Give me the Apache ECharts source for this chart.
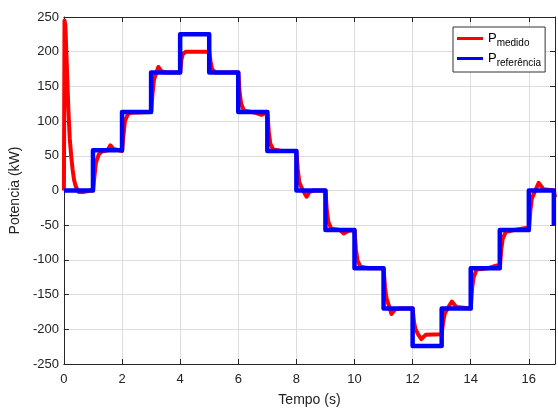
<!DOCTYPE html>
<html>
<head>
<meta charset="utf-8">
<script src="https://cdn.jsdelivr.net/npm/echarts@6/dist/echarts.min.js"></script>
<style>
  html, body { margin: 0; padding: 0; background: #fff; }
  #main { width: 558px; height: 415px; }
</style>
</head>
<body>
<div id="main"></div>
<script>
// P referencia (degraus de 1 s)
const refT = [0, 1, 1, 2, 2, 3, 3, 4, 4, 5, 5, 6, 6, 7, 7, 8, 8, 9, 9, 10, 10, 11, 11, 12, 12, 13, 13, 14, 14, 15, 15, 16, 16, 16.86, 16.86];
const refP = [0, 0, 58, 58, 113, 113, 170, 170, 225, 225, 170, 170, 113, 113, 57, 57, 0, 0, -57, -57, -112, -112, -170, -170, -224, -224, -170, -170, -112, -112, -57, -57, 0, 0, -50];

// P medido
const medT = [0, 0.02, 0.05, 0.1, 0.15, 0.2, 0.25, 0.3, 0.35, 0.4, 0.45, 0.5, 0.7, 0.9, 1.0,
  1.05, 1.1, 1.2, 1.3, 1.5, 1.6, 1.7, 1.9, 2.0,
  2.05, 2.1, 2.2, 2.3, 3.0,
  3.05, 3.1, 3.2, 3.25, 3.35, 3.5, 4.0,
  4.05, 4.1, 4.2, 5.0,
  5.05, 5.1, 5.2, 6.0,
  6.05, 6.1, 6.2, 6.6, 6.8, 7.0,
  7.05, 7.1, 7.2, 7.5, 8.0,
  8.05, 8.1, 8.2, 8.35, 8.45, 8.6, 9.0,
  9.05, 9.1, 9.2, 9.5, 9.63, 9.8, 10.0,
  10.05, 10.1, 10.2, 10.5, 11.0,
  11.05, 11.1, 11.2, 11.27, 11.4, 11.6, 12.0,
  12.05, 12.1, 12.2, 12.3, 12.45, 13.0,
  13.05, 13.1, 13.2, 13.35, 13.5, 14.0,
  14.05, 14.1, 14.2, 14.6, 14.9, 15.0,
  15.05, 15.1, 15.2, 15.6, 15.9, 16.0,
  16.05, 16.1, 16.2, 16.34, 16.5, 16.86, 16.9];
const medP = [0, 245, 238, 180, 120, 75, 50, 30, 15, 7, 2, -2, -2, 0, 0,
  20, 40, 52, 56, 58, 65, 60, 58, 57,
  80, 100, 110, 112, 113,
  140, 160, 172, 178, 172, 170, 170,
  190, 197, 200, 200,
  185, 175, 170, 170,
  140, 125, 115, 112, 109, 113,
  85, 68, 59, 57, 57,
  30, 12, 2, -9, -2, 0, 0,
  -30, -45, -55, -57, -62, -58, -57,
  -85, -100, -110, -112, -112,
  -140, -155, -168, -178, -171, -170, -170,
  -190, -200, -208, -214, -208, -207,
  -190, -178, -170, -160, -168, -170,
  -140, -125, -114, -112, -108, -112,
  -85, -70, -60, -56, -54, -57,
  -30, -12, -2, 11, 2, 0, -10];

const xTicks = [0, 2, 4, 6, 8, 10, 12, 14, 16];
const yTicks = [-250, -200, -150, -100, -50, 0, 50, 100, 150, 200, 250];

const medData = medT.map((t, i) => [t, medP[i]]);
const refData = refT.map((t, i) => [t, refP[i]]);

const chart = echarts.init(document.getElementById('main'), null, { renderer: 'canvas' });

const FONT = 'Liberation Sans';
const axisColor = '#262626';

const legendRich = {
  p: { fontSize: 13, color: '#000', fontFamily: FONT },
  s: { fontSize: 10, color: '#000', fontFamily: FONT, padding: [9, 0, 0, 0] }
};

const option = {
  animation: false,
  backgroundColor: '#fff',
  grid: { left: 62, top: 17, right: 0, bottom: 51 },
  legend: {
    left: 453,
    top: 27,
    orient: 'vertical',
    backgroundColor: '#fff',
    borderColor: '#333',
    borderWidth: 1,
    borderRadius: 0,
    padding: [5, 4, 4, 4],
    itemGap: 4,
    itemWidth: 26,
    itemHeight: 3,
    icon: 'rect',
    data: ['medido', 'referência'],
    formatter: name => '{p|P}{s|' + name + '}',
    textStyle: { rich: legendRich }
  },
  xAxis: [{
    type: 'value',
    min: 0, max: 16.9, interval: 2,
    name: 'Tempo (s)',
    nameLocation: 'middle',
    nameGap: 29,
    nameTextStyle: { fontSize: 14, color: '#222', fontFamily: FONT },
    axisLine: { onZero: false, lineStyle: { color: axisColor, width: 1 } },
    axisTick: { inside: true, length: 5, lineStyle: { color: axisColor } },
    axisLabel: {
      fontSize: 13, color: '#222', fontFamily: FONT, margin: 9,
      formatter: v => xTicks.includes(v) ? String(v) : ''
    },
    splitLine: { show: true, lineStyle: { color: '#dcdcdc', width: 1 } }
  }, {
    type: 'value',
    position: 'top',
    min: 0, max: 16.9, interval: 2,
    axisLine: { onZero: false, lineStyle: { color: axisColor, width: 1 } },
    axisTick: { inside: true, length: 5, lineStyle: { color: axisColor } },
    axisLabel: { show: false },
    splitLine: { show: false }
  }],
  yAxis: [{
    type: 'value',
    min: -250, max: 250, interval: 50,
    name: 'Potencia (kW)',
    nameLocation: 'middle',
    nameGap: 40,
    nameTextStyle: { fontSize: 14, color: '#222', fontFamily: FONT },
    axisLine: { show: true, onZero: false, lineStyle: { color: axisColor, width: 1 } },
    axisTick: { show: true, inside: true, length: 5, lineStyle: { color: axisColor } },
    axisLabel: {
      fontSize: 13, color: '#222', fontFamily: FONT, margin: 5,
      formatter: v => yTicks.includes(v) ? String(v) : ''
    },
    splitLine: { show: true, lineStyle: { color: '#dcdcdc', width: 1 } }
  }, {
    type: 'value',
    position: 'right',
    min: -250, max: 250, interval: 50,
    axisLine: { show: true, onZero: false, lineStyle: { color: axisColor, width: 1 } },
    axisTick: { show: true, inside: true, length: 5, lineStyle: { color: axisColor } },
    axisLabel: { show: false },
    splitLine: { show: false }
  }],
  series: [{
    name: 'medido',
    type: 'line',
    data: medData,
    showSymbol: false,
    symbol: 'none',
    clip: true,
    color: '#ff0000',
    lineStyle: { color: '#ff0000', width: 4, join: 'round' },
    z: 2
  }, {
    name: 'referência',
    type: 'line',
    data: refData,
    showSymbol: false,
    symbol: 'none',
    clip: true,
    color: '#0000ff',
    lineStyle: { color: '#0000ff', width: 4.5, join: 'round' },
    z: 3
  }]
};

chart.setOption(option);
</script>
</body>
</html>
